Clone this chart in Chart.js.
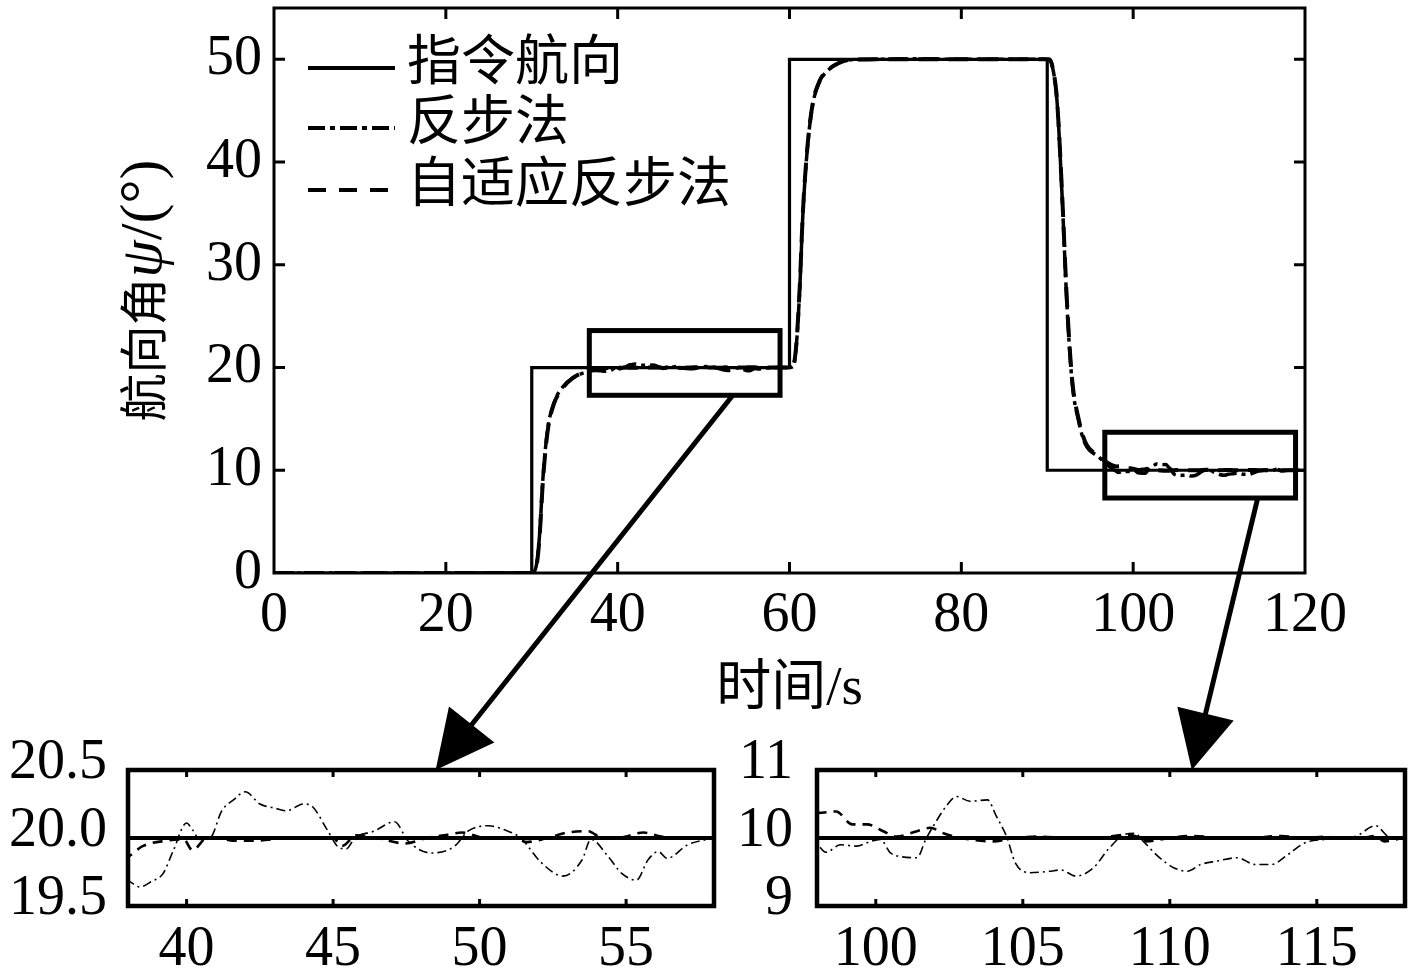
<!DOCTYPE html>
<html><head><meta charset="utf-8">
<script src="https://cdn.jsdelivr.net/npm/chart.js@4/dist/chart.umd.min.js"></script>
<style>
html,body{margin:0;padding:0;background:#fff;width:1417px;height:976px;overflow:hidden;position:relative}
canvas{position:absolute;display:block}
#main{left:0;top:0}
#inset1{left:0;top:740px}
#inset2{left:740px;top:740px}
#overlay{left:0;top:0;pointer-events:none;z-index:5}
</style></head><body>
<canvas id="main" width="1417" height="740"></canvas>
<canvas id="inset1" width="740" height="236"></canvas>
<canvas id="inset2" width="677" height="236"></canvas>
<canvas id="overlay" width="1417" height="976"></canvas>
<script>
// ---------- data ----------
const seriesLabels = ['指令航向', '反步法', '自适应反步法'];
const xTitle = '时间/s';
const yTitleParts = ['航向角', 'ψ', '/(°)'];

const cmdTime    = [0, 30, 30, 60, 60, 90, 90, 120];
const cmdHeading = [0, 0, 20, 20, 50, 50, 10, 10];

const bsTime = [
  0, 30, 30.5, 30.9, 31.3, 31.85, 32.6, 33.6, 34.8, 36.3,
  37.3, 38.05, 38.4, 38.8, 39.2, 39.55, 40.0, 40.2, 40.45, 40.8,
  41.2, 41.6, 42.0, 42.5, 43.0, 43.4, 44.0, 44.3, 44.8, 45.2,
  45.45, 45.74, 46.4, 47.1, 47.55, 48.35, 49.15, 49.6, 50.3, 50.85,
  51.4, 52.1, 52.85, 53.5, 53.8, 54.4, 54.85, 55.35, 55.75, 56.1,
  56.4, 57.1, 57.8, 58.5, 59.5, 60.0, 60.4, 60.8, 61.2, 61.55,
  62.1, 62.7, 63.5, 64.7, 66.2, 67.0, 70, 75, 80, 85,
  89.8, 90.2, 90.6, 91.15, 91.7, 92.3, 92.9, 93.65, 94.4, 96.0,
  97.3, 98.03, 98.3, 98.8, 99.35, 99.7, 100.15, 100.5, 100.8, 101.4,
  101.7, 101.95, 102.4, 102.75, 103.2, 103.8, 104.1, 104.45, 104.75, 105.25,
  105.9, 106.3, 106.8, 107.4, 107.9, 108.45, 108.8, 109.1, 109.6, 110.15,
  110.6, 111.05, 111.6, 112.3, 112.9, 113.45, 114.0, 114.6, 115.3, 115.8,
  116.3, 117.0, 117.45, 118.0, 120
];
const bsHeading = [
  0, 0, 0.6, 3.6, 9.2, 14.0, 16.6, 18.1, 19.0, 19.55,
  19.72, 19.68, 19.64, 19.68, 19.74, 19.91, 20.11, 20.06, 19.99, 20.0,
  20.2, 20.28, 20.34, 20.25, 20.22, 20.2, 20.25, 20.23, 20.06, 19.93,
  19.92, 20.0, 20.05, 20.12, 19.98, 19.89, 19.94, 20.05, 20.09, 20.06,
  20.0, 19.82, 19.72, 19.84, 19.99, 19.86, 19.74, 19.69, 19.84, 19.9,
  19.85, 19.95, 19.99, 20.0, 20.0, 20.0, 20.1, 22.2, 27.8, 34.8,
  41.5, 45.6, 47.8, 49.1, 49.8, 49.95, 50.0, 50.05, 50.0, 50.0,
  50.0, 50.0, 49.3, 45.8, 37.2, 26.0, 18.5, 14.8, 12.6, 11.3,
  10.3, 9.9, 9.79, 9.9, 9.88, 9.93, 9.98, 9.78, 9.73, 9.71,
  9.98, 10.17, 10.47, 10.61, 10.54, 10.56, 10.32, 10.02, 9.63, 9.49,
  9.51, 9.53, 9.44, 9.56, 9.83, 10.05, 10.07, 9.95, 9.73, 9.56,
  9.51, 9.61, 9.66, 9.71, 9.61, 9.61, 9.75, 9.93, 9.98, 10.0,
  10.02, 10.18, 10.02, 10.0, 10.0
];

const abTime = [
  0, 30, 30.5, 30.9, 31.3, 31.85, 32.6, 33.6, 34.8, 36.3,
  37.3, 38.0, 38.5, 39.3, 39.9, 40.2, 40.7, 41.0, 41.6, 42.3,
  43.5, 45.0, 45.3, 45.8, 46.5, 47.45, 48.2, 48.8, 49.4, 50.2,
  51.2, 51.6, 52.3, 53.0, 53.7, 54.2, 54.7, 55.6, 56.2, 57.0,
  57.7, 59.5, 60.0, 60.4, 60.8, 61.2, 61.55, 62.1, 62.7, 63.5,
  64.7, 66.2, 67.0, 70, 75, 80, 85, 89.8, 90.2, 90.6,
  91.15, 91.7, 92.3, 92.9, 93.65, 94.4, 96.0, 97.5, 98.03, 98.65,
  99.2, 99.7, 100.25, 100.7, 101.4, 101.85, 102.3, 102.9, 104.0, 104.7,
  105.6, 106.5, 107.5, 108.55, 109.0, 109.2, 110.0, 110.8, 111.8, 112.65,
  113.8, 114.6, 115.3, 115.8, 116.5, 117.0, 117.3, 118.0, 120
];
const abHeading = [
  0, 0, 0.5, 3.4, 9.0, 13.8, 16.5, 18.0, 19.0, 19.6,
  19.8, 19.86, 19.94, 19.98, 19.99, 19.91, 20.0, 20.0, 19.98, 19.98,
  20.0, 20.0, 19.94, 20.02, 20.0, 19.96, 20.0, 20.02, 20.04, 20.0,
  20.0, 19.97, 20.0, 20.04, 20.05, 20.0, 20.0, 20.04, 20.01, 20.0,
  20.0, 20.0, 20.0, 20.1, 22.3, 28.0, 35.0, 41.6, 45.7, 47.9,
  49.1, 49.8, 49.95, 50.0, 50.0, 50.0, 50.0, 50.0, 50.0, 49.3,
  45.9, 37.4, 26.3, 18.8, 15.0, 12.8, 11.4, 10.5, 10.37, 10.39,
  10.2, 10.2, 10.1, 10.02, 10.1, 10.15, 10.07, 10.0, 9.95, 10.0,
  10.02, 10.0, 10.0, 10.05, 10.0, 9.95, 10.0, 10.03, 10.0, 10.0,
  10.03, 10.0, 10.02, 10.0, 10.0, 10.03, 9.95, 10.0, 10.0
];

// tick values
const mainXTicks   = [0, 20, 40, 60, 80, 100, 120];
const mainYTicks   = [0, 10, 20, 30, 40, 50];
const inset1XTicks = [40, 45, 50, 55];
const inset1YTicks = [19.5, 20.0, 20.5];
const inset2XTicks = [100, 105, 110, 115];
const inset2YTicks = [9, 10, 11];

// zoom windows (data units)
const mainRange   = {x: [0, 120], y: [0, 55]};
const inset1Range = {x: [38, 58], y: [19.5, 20.5]};
const inset2Range = {x: [98, 118], y: [9, 11]};
const zoomBox1 = {x: [36.7, 58.9], y: [17.3, 23.6]};
const zoomBox2 = {x: [96.7, 118.9], y: [7.3, 13.7]};
const arrow1 = {from: [53.4, 17.3], toX: 48.5};
const arrow2 = {from: [114.5, 7.3], toX: 110.75};

// ---------- rendering ----------
const NUM_FONT = '"Liberation Serif", "Times New Roman", serif';
const CJK_FONT = '"Liberation Serif", "Noto Sans CJK SC", sans-serif';

function pts(t, v) { return t.map((x, i) => ({x: x, y: v[i]})); }

function makeDatasets(st) {
  return [
    {label: seriesLabels[0], data: pts(cmdTime, cmdHeading), borderColor: '#000', borderWidth: st.cmdW,
     borderDash: [], tension: 0, pointRadius: 0, order: 0},
    {label: seriesLabels[1], data: pts(bsTime, bsHeading), borderColor: '#000', borderWidth: st.bsW,
     borderDash: st.bsDash, cubicInterpolationMode: 'monotone', pointRadius: 0, order: 2},
    {label: seriesLabels[2], data: pts(abTime, abHeading), borderColor: '#000', borderWidth: st.abW,
     borderDash: st.abDash, cubicInterpolationMode: 'monotone', pointRadius: 0, order: 1}
  ];
}

function axis(o) {
  const a = {
    type: 'linear', min: o.range[0], max: o.range[1],
    afterBuildTicks: s => { s.ticks = o.ticks.map(v => ({value: v})); },
    afterFit: s => {
      if (o.width != null) s.width = o.width;
      if (o.height != null) s.height = o.height;
      s.paddingTop = 0; s.paddingBottom = 0; s.paddingLeft = 0; s.paddingRight = 0;
    },
    grid: {display: false, drawTicks: false},
    border: {display: false},
    ticks: {font: {family: NUM_FONT, size: 56}, color: '#000', padding: o.pad, maxRotation: 0, autoSkip: false,
            labelOffset: o.labelOffset || 0, callback: o.fmt || (v => String(v))}
  };
  if (o.title) a.title = o.title;
  return a;
}

const framePlugin = {
  id: 'frame',
  afterDatasetsDraw(chart, args, opts) {
    const {ctx, chartArea: a, scales} = chart;
    ctx.save();
    ctx.strokeStyle = '#000';
    ctx.setLineDash([]);
    ctx.lineWidth = opts.tickWidth;
    ctx.beginPath();
    const tl = opts.tickLen;
    scales.x.ticks.forEach(t => {
      const px = scales.x.getPixelForValue(t.value);
      if (px <= a.left + 2 || px >= a.right - 2) return;
      ctx.moveTo(px, a.bottom); ctx.lineTo(px, a.bottom - tl);
      ctx.moveTo(px, a.top); ctx.lineTo(px, a.top + tl);
    });
    if (opts.yTicks) {
      scales.y.ticks.forEach(t => {
        const py = scales.y.getPixelForValue(t.value);
        if (py <= a.top + 2 || py >= a.bottom - 2) return;
        ctx.moveTo(a.left, py); ctx.lineTo(a.left + tl, py);
        ctx.moveTo(a.right, py); ctx.lineTo(a.right - tl, py);
      });
    }
    ctx.stroke();
    ctx.lineWidth = opts.lineWidth;
    ctx.strokeRect(a.left, a.top, a.width, a.height);
    if (opts.boxes) {
      ctx.lineWidth = opts.boxWidth;
      opts.boxes.forEach(b => {
        const x0 = scales.x.getPixelForValue(b.x[0]), x1 = scales.x.getPixelForValue(b.x[1]);
        const y0 = scales.y.getPixelForValue(b.y[1]), y1 = scales.y.getPixelForValue(b.y[0]);
        ctx.strokeRect(x0, y0, x1 - x0, y1 - y0);
      });
    }
    ctx.restore();
  }
};

const inlineLegend = {
  id: 'inlineLegend',
  afterDraw(chart, args, o) {
    if (!o || !o.show) return;
    const {ctx, chartArea: a} = chart;
    ctx.save();
    chart.data.datasets.forEach((ds, i) => {
      const y = a.top + o.rowY[i];
      ctx.strokeStyle = ds.borderColor;
      ctx.lineWidth = o.lineWidth;
      ctx.setLineDash(o.dash[i]);
      ctx.beginPath(); ctx.moveTo(a.left + o.x0, y); ctx.lineTo(a.left + o.x1, y); ctx.stroke();
      ctx.setLineDash([]);
      ctx.fillStyle = '#000';
      ctx.font = o.font;
      ctx.textBaseline = 'middle';
      ctx.textAlign = 'left';
      ctx.fillText(ds.label, a.left + o.textX, y + o.textDy);
    });
    ctx.restore();
  }
};

// y-axis title with mixed fonts (CJK + italic psi), centred on the y scale
const yTitlePlugin = {
  id: 'yTitle',
  afterDraw(chart, args, o) {
    if (!o || !o.show) return;
    const {ctx, scales} = chart;
    const cy = (scales.y.top + scales.y.bottom) / 2;
    ctx.save();
    ctx.translate(o.x, cy);
    ctx.rotate(-Math.PI / 2);
    ctx.fillStyle = '#000';
    ctx.textBaseline = 'alphabetic';
    ctx.textAlign = 'left';
    let total = 0;
    const w = o.parts.map((p, i) => { ctx.font = o.fonts[i]; const m = ctx.measureText(p).width; total += m; return m; });
    let x = -total / 2;
    o.parts.forEach((p, i) => { ctx.font = o.fonts[i]; ctx.fillText(p, x, o.baseline); x += w[i]; });
    ctx.restore();
  }
};

Chart.register(framePlugin, inlineLegend, yTitlePlugin);

const baseOpts = {responsive: false, animation: false, events: [], devicePixelRatio: 1};

const mainChart = new Chart(document.getElementById('main'), {
  type: 'line',
  data: {datasets: makeDatasets({cmdW: 3.2, bsW: 3.5, bsDash: [18, 5, 4, 5], abW: 4, abDash: [20, 10]})},
  options: Object.assign({}, baseOpts, {
    layout: {padding: {left: 0, top: 8, right: 112, bottom: 0}},
    scales: {
      x: axis({range: mainRange.x, ticks: mainXTicks, pad: 10, height: 167,
        title: {display: true, text: xTitle, color: '#000', font: {family: CJK_FONT, size: 55}, padding: {top: 0, bottom: 17}}}),
      y: axis({range: mainRange.y, ticks: mainYTicks, pad: 12, width: 274})
    },
    plugins: {
      legend: {display: false}, tooltip: {enabled: false},
      frame: {lineWidth: 3, tickWidth: 3, tickLen: 11, yTicks: true, boxes: [zoomBox1, zoomBox2], boxWidth: 5},
      inlineLegend: {show: true, rowY: [60, 120, 182], x0: 34, x1: 121, textX: 133, textDy: -9,
        lineWidth: 4, dash: [[], [17, 5, 5, 5], [18, 13]], font: '54px "Noto Sans CJK SC"'},
      yTitle: {show: true, x: 143, baseline: 18, parts: yTitleParts,
        fonts: ['48px "Noto Sans CJK SC"', 'italic 60px "Liberation Serif"', '60px "Liberation Serif"']}
    }
  })
});

function insetChart(id, range, xt, yt, yW, yPad, rightPad, fmt) {
  return new Chart(document.getElementById(id), {
    type: 'line',
    data: {datasets: makeDatasets({cmdW: 4, bsW: 1.6, bsDash: [9, 4, 2, 4], abW: 2.6, abDash: [10, 7]})},
    options: Object.assign({}, baseOpts, {
      layout: {padding: {left: 0, top: 30, right: rightPad, bottom: 0}},
      scales: {
        x: axis({range: range.x, ticks: xt, pad: 11, height: 70}),
        y: axis({range: range.y, ticks: yt, pad: yPad, width: yW, fmt: fmt, labelOffset: -7})
      },
      plugins: {
        legend: {display: false}, tooltip: {enabled: false},
        frame: {lineWidth: 4.5, tickWidth: 3, tickLen: 7, yTicks: false},
        inlineLegend: {show: false},
        yTitle: {show: false}
      }
    })
  });
}

const in1 = insetChart('inset1', inset1Range, inset1XTicks, inset1YTicks, 128, 21, 26, v => Number(v).toFixed(1));
const in2 = insetChart('inset2', inset2Range, inset2XTicks, inset2YTicks, 77, 24, 12, v => String(v));

// arrows from zoom boxes to insets
function drawArrow(ctx, x0, y0, x1, y1) {
  const dx = x1 - x0, dy = y1 - y0, L = Math.hypot(dx, dy);
  const ux = dx / L, uy = dy / L, head = 58, hw = 29;
  const bx = x1 - ux * head, by = y1 - uy * head;
  ctx.lineWidth = 5;
  ctx.strokeStyle = '#000';
  ctx.beginPath(); ctx.moveTo(x0, y0); ctx.lineTo(bx + ux * 4, by + uy * 4); ctx.stroke();
  ctx.fillStyle = '#000';
  ctx.beginPath();
  ctx.moveTo(x1, y1);
  ctx.lineTo(bx - uy * hw, by + ux * hw);
  ctx.lineTo(bx + uy * hw, by - ux * hw);
  ctx.closePath(); ctx.fill();
}
const ov = document.getElementById('overlay').getContext('2d');
const mx = mainChart.scales.x, my = mainChart.scales.y;
const off1 = {x: 0, y: 740}, off2 = {x: 740, y: 740};
drawArrow(ov, mx.getPixelForValue(arrow1.from[0]), my.getPixelForValue(arrow1.from[1]),
  off1.x + in1.scales.x.getPixelForValue(arrow1.toX), off1.y + in1.chartArea.top);
drawArrow(ov, mx.getPixelForValue(arrow2.from[0]), my.getPixelForValue(arrow2.from[1]),
  off2.x + in2.scales.x.getPixelForValue(arrow2.toX), off2.y + in2.chartArea.top);
</script>
</body></html>
